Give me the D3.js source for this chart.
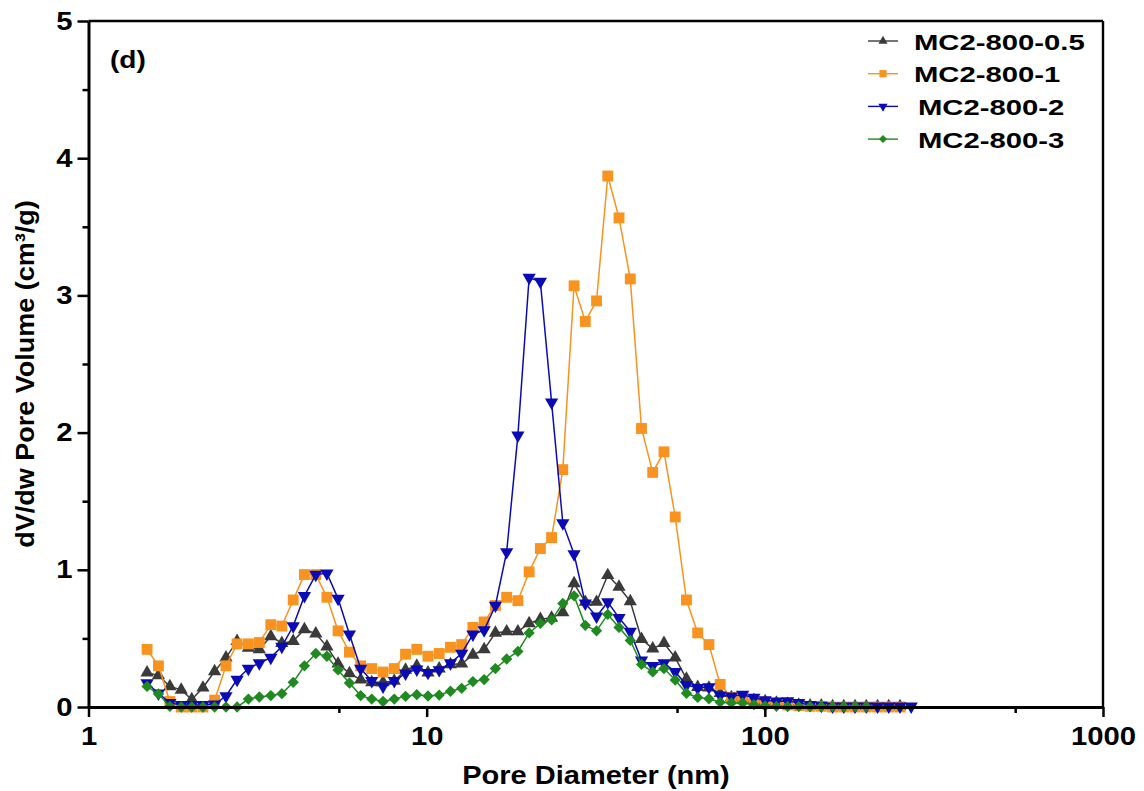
<!DOCTYPE html>
<html>
<head>
<meta charset="utf-8">
<script src="https://cdn.jsdelivr.net/npm/d3@7"></script>
<style>
  body { margin: 0; background: #fff; }
  text { font-family: "Liberation Sans", Arial, sans-serif; font-weight: bold; fill: #000; }
</style>
</head>
<body>
<svg id="vis"></svg>
<script>
// pore diameters (nm), shared by all four curves
const diameters = [1.49, 1.61, 1.74, 1.88, 2.02, 2.18, 2.36, 2.55, 2.75, 2.97,
  3.20, 3.46, 3.73, 4.03, 4.35, 4.70, 5.07, 5.47, 5.91, 6.38,
  6.88, 7.43, 8.02, 8.66, 9.35, 10.09, 10.89, 11.76, 12.69, 13.70,
  14.79, 15.97, 17.24, 18.61, 20.09, 21.69, 23.41, 25.27, 27.28, 29.45,
  31.79, 34.32, 37.05, 40.00, 43.18, 46.61, 50.32, 54.32, 58.64, 63.30,
  68.34, 73.77, 79.64, 85.97, 92.81, 100.2, 108.2, 116.8, 126.0, 136.1,
  146.9, 158.6, 171.2, 184.8, 199.5, 215.4, 232.5, 251.0, 270.9];

const seriesNames = ["MC2-800-0.5", "MC2-800-1", "MC2-800-2", "MC2-800-3"];

const mc05 = [0.25, 0.23, 0.15, 0.125, 0.055, 0.14, 0.26, 0.36, 0.48, 0.43,
  0.42, 0.515, 0.465, 0.48, 0.565, 0.535, 0.44, 0.315, 0.245, 0.20,
  0.18, 0.18, 0.19, 0.27, 0.30, 0.25, 0.28, 0.31, 0.315, 0.38,
  0.42, 0.54, 0.55, 0.55, 0.61, 0.64, 0.65, 0.69, 0.90, 0.765,
  0.765, 0.96, 0.875, 0.77, 0.495, 0.425, 0.465, 0.36, 0.205, 0.145,
  0.14, 0.10, 0.07, 0.06, 0.05, 0.04, 0.03, 0.02, 0.015, 0.01,
  0.01, 0.005, 0.005, 0.005, 0.005, 0.005, 0.005, 0.005];

const mc1 = [0.42, 0.30, 0.04, 0.0, 0.0, 0.0, 0.05, 0.30, 0.46, 0.46,
  0.47, 0.60, 0.59, 0.78, 0.965, 0.965, 0.80, 0.555, 0.40, 0.30,
  0.28, 0.255, 0.28, 0.385, 0.42, 0.37, 0.39, 0.435, 0.455, 0.58,
  0.62, 0.74, 0.80, 0.775, 0.985, 1.155, 1.235, 1.73, 3.07, 2.81,
  2.96, 3.87, 3.565, 3.12, 2.03, 1.71, 1.86, 1.385, 0.78, 0.54,
  0.455, 0.165, 0.07, 0.06, 0.045, 0.035, 0.025, 0.015, 0.01, 0.005,
  0.005, 0.0, 0.0, 0.0, 0.0, 0.0, 0.0, 0.0];

const mc2 = [0.175, 0.10, 0.03, 0.015, 0.015, 0.015, 0.02, 0.08, 0.20, 0.28,
  0.32, 0.36, 0.44, 0.59, 0.81, 0.965, 0.975, 0.79, 0.53, 0.28,
  0.19, 0.15, 0.19, 0.245, 0.275, 0.25, 0.27, 0.32, 0.39, 0.53,
  0.56, 0.74, 1.13, 1.98, 3.13, 3.10, 2.22, 1.34, 1.115, 0.755,
  0.66, 0.765, 0.65, 0.55, 0.34, 0.30, 0.32, 0.256, 0.16, 0.14,
  0.145, 0.085, 0.078, 0.09, 0.068, 0.05, 0.042, 0.044, 0.03, 0.015,
  0.01, 0.005, 0.005, 0.005, 0.005, 0.005, 0.005, 0.005, 0.005];

const mc3 = [0.15, 0.095, 0.005, 0.0, 0.0, 0.0, 0.0, 0.0, 0.0, 0.058,
  0.073, 0.083, 0.097, 0.18, 0.30, 0.39, 0.37, 0.27, 0.175, 0.083,
  0.058, 0.04, 0.058, 0.078, 0.09, 0.08, 0.087, 0.115, 0.136, 0.185,
  0.20, 0.28, 0.35, 0.405, 0.54, 0.61, 0.635, 0.755, 0.81, 0.595,
  0.555, 0.675, 0.58, 0.485, 0.31, 0.256, 0.28, 0.197, 0.10, 0.07,
  0.06, 0.035, 0.03, 0.03, 0.017, 0.008, 0.005, 0.003, 0.003, 0.003,
  0.003, 0.003, 0.003, 0.003, 0.003];

const xTicks = [1, 10, 100, 1000];
const xMinorTicks = [5.5, 55, 550];
const yTicks = [0, 1, 2, 3, 4, 5];
const yMinorTicks = [0.5, 1.5, 2.5, 3.5, 4.5];

const WIDTH = 1144, HEIGHT = 791;
const PLOT = {left: 88.5, right: 1103, top: 21, bottom: 707};

const SVG = d3.select("#vis").attr("width", WIDTH).attr("height", HEIGHT);

const X_SCALE = d3.scaleLog().domain([1, 1000]).range([PLOT.left, PLOT.right]);
const Y_SCALE = d3.scaleLinear().domain([0, 5]).range([PLOT.bottom, PLOT.top]);

// the exported figure has widened glyphs, so text gets stretched a bit
function stretch(sel, k) {
  sel.each(function() {
    const w = this.getComputedTextLength();
    d3.select(this).attr("textLength", w * k).attr("lengthAdjust", "spacingAndGlyphs");
  });
}

const series = [
  {name: seriesNames[0], values: mc05, color: "#3a3a3a", shape: "up"},
  {name: seriesNames[1], values: mc1, color: "#f7931e", shape: "square"},
  {name: seriesNames[2], values: mc2, color: "#0b0bb5", shape: "down"},
  {name: seriesNames[3], values: mc3, color: "#1f8a1f", shape: "diamond"}
];

function symbolPath(shape, big) {
  if (shape === "square") return d3.symbol(d3.symbolSquare, big ? 118 : 52)();
  if (shape === "diamond") return d3.symbol(d3.symbolSquare, big ? 64 : 32)();
  return d3.symbol(d3.symbolTriangle, big ? 76 : 36)();
}
function symbolRotate(shape) {
  if (shape === "down") return 180;
  if (shape === "diamond") return 45;
  return 0;
}

// frame (top and right)
SVG.append("line")
  .attr("x1", PLOT.left).attr("x2", PLOT.right)
  .attr("y1", PLOT.top).attr("y2", PLOT.top)
  .attr("stroke", "#000").attr("stroke-width", 2.4);
SVG.append("line")
  .attr("x1", PLOT.right).attr("x2", PLOT.right)
  .attr("y1", PLOT.top).attr("y2", PLOT.bottom)
  .attr("stroke", "#000").attr("stroke-width", 2.4);

// curves
const line = d3.line()
  .x((d) => X_SCALE(d[0]))
  .y((d) => Y_SCALE(d[1]));

series.forEach((s) => {
  const pts = s.values.map((v, i) => [diameters[i], v]);
  const g = SVG.append("g");
  g.append("path")
    .datum(pts)
    .attr("d", line)
    .attr("fill", "none")
    .attr("stroke", s.color)
    .attr("stroke-width", 1.5);
  g.selectAll("path.mark")
    .data(pts)
    .enter()
    .append("path")
      .attr("class", "mark")
      .attr("d", symbolPath(s.shape, true))
      .attr("transform", (d) => "translate(" + X_SCALE(d[0]) + "," + Y_SCALE(d[1]) + ") rotate(" + symbolRotate(s.shape) + ")")
      .attr("fill", s.color);
});

// y axis
const yAxis = SVG.append("g")
  .attr("transform", "translate(" + PLOT.left + ",0)")
  .call(d3.axisLeft(Y_SCALE).tickValues(yTicks).tickSize(11).tickSizeOuter(0).tickPadding(5).tickFormat(d3.format("d")));
yAxis.select(".domain").attr("stroke-width", 3);
yAxis.selectAll(".tick line").attr("stroke-width", 2.5);
yAxis.selectAll("text").attr("font-size", "25px").call(stretch, 1.17);

SVG.append("g")
  .attr("transform", "translate(" + PLOT.left + ",0)")
  .call(d3.axisLeft(Y_SCALE).tickValues(yMinorTicks).tickSize(6).tickSizeOuter(0).tickFormat(""))
  .call((g) => g.select(".domain").remove())
  .selectAll(".tick line").attr("stroke-width", 2.5);

// x axis
const xAxis = SVG.append("g")
  .attr("transform", "translate(0," + PLOT.bottom + ")")
  .call(d3.axisBottom(X_SCALE).tickValues(xTicks).tickSize(10).tickSizeOuter(0).tickPadding(10).tickFormat(d3.format("d")));
xAxis.select(".domain").attr("stroke-width", 3);
xAxis.selectAll(".tick line").attr("stroke-width", 2.5);
xAxis.selectAll("text").attr("font-size", "25px").call(stretch, 1.17);

SVG.append("g")
  .attr("transform", "translate(0," + PLOT.bottom + ")")
  .call(d3.axisBottom(X_SCALE).tickValues(xMinorTicks).tickSize(6).tickSizeOuter(0).tickFormat(""))
  .call((g) => g.select(".domain").remove())
  .selectAll(".tick line").attr("stroke-width", 2.5);

// axis titles
SVG.append("text")
  .attr("x", 596).attr("y", 784)
  .attr("text-anchor", "middle")
  .attr("font-size", "25px")
  .text("Pore Diameter (nm)")
  .call(stretch, 1.16);

SVG.append("text")
  .attr("transform", "translate(34,374) rotate(-90)")
  .attr("text-anchor", "middle")
  .attr("font-size", "25px")
  .text("dV/dw Pore Volume (cm³/g)")
  .call(stretch, 1.08);

// panel label
SVG.append("text")
  .attr("x", 110).attr("y", 68)
  .attr("font-size", "23px")
  .text("(d)")
  .call(stretch, 1.22);

// legend
const legend = SVG.selectAll(".legend")
  .data(series)
  .enter()
  .append("g")
    .attr("class", "legend")
    .attr("transform", (d, i) => "translate(868," + (41 + i * 32.7) + ")");

legend.append("line")
  .attr("x1", 0).attr("x2", 30)
  .attr("stroke", (d) => d.color)
  .attr("stroke-width", 1.4);
legend.append("path")
  .attr("d", (d) => symbolPath(d.shape, false))
  .attr("transform", (d) => "translate(15,0) rotate(" + symbolRotate(d.shape) + ")")
  .attr("fill", (d) => d.color);
legend.append("text")
  .attr("x", (d, i) => i < 2 ? 46 : 50)
  .attr("y", 8.5)
  .attr("font-size", "22px")
  .text((d) => d.name)
  .call(stretch, 1.33);
</script>
</body>
</html>
